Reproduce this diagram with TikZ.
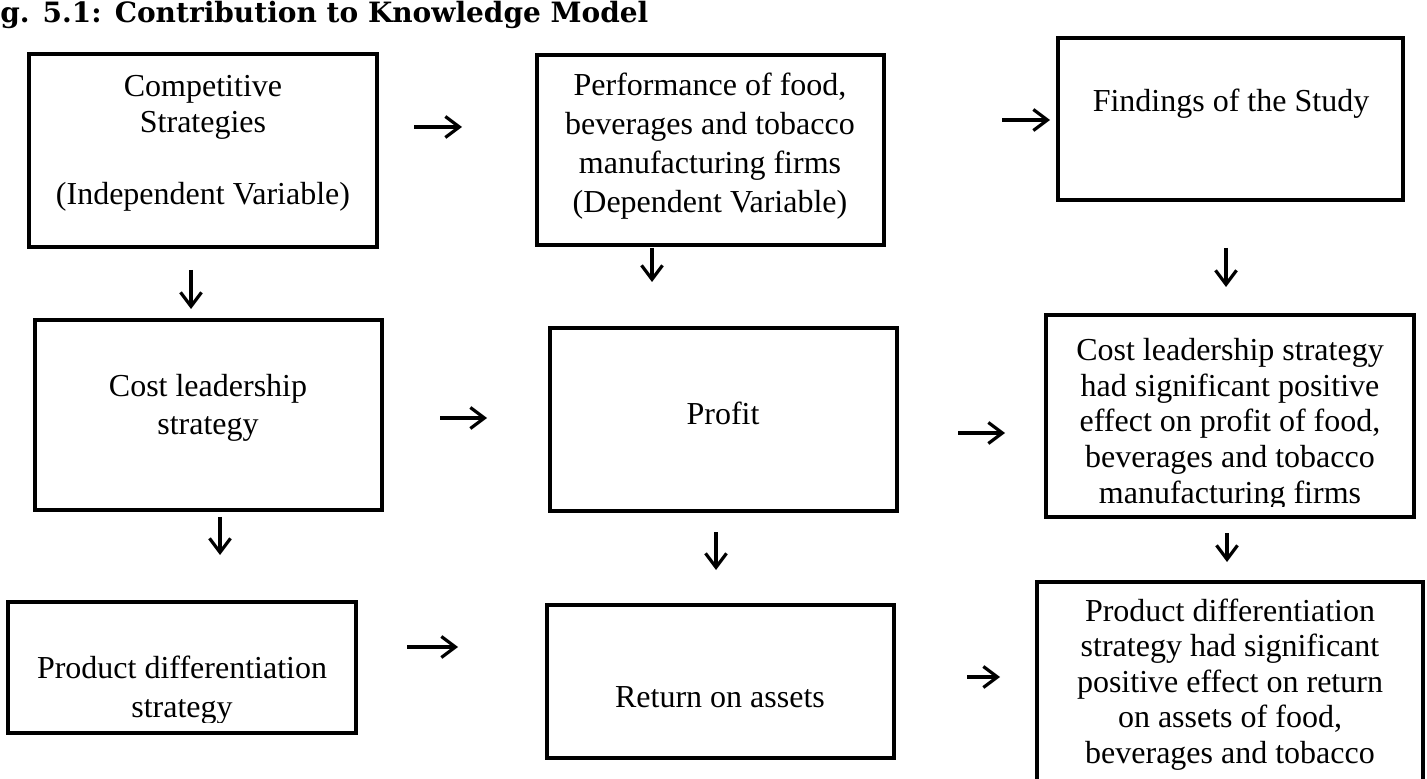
\documentclass[tikz,border=0pt]{standalone}
\usepackage{fontspec}
\setmainfont{Liberation Serif}
\newfontfamily\headfont{DejaVu Serif}
\usetikzlibrary{arrows.meta}

\begin{document}
\begin{tikzpicture}[x=0.5pt,y=-0.5pt]
    \tikzstyle{box}=[draw,rectangle,line width=2pt,inner sep=0pt]
    \tikzstyle{txt}=[align=center,inner sep=0pt,anchor=base,font=\fontsize{16}{18}\selectfont]
    \tikzstyle{link}=[-{Straight Barb[length=7pt,width=10.5pt]},line width=1.6pt]

    \useasboundingbox (0,0) rectangle (1427,779);

    \node[anchor=base west,inner sep=0pt,font=\headfont\bfseries\fontsize{14}{16}\selectfont]
        (title) at (0,23) {g. 5.1: Contribution to Knowledge Model};

    % Top row: variables and findings
    \node[box, minimum width=174pt, minimum height=96.5pt] (cs) at (203,150.5) {};
    \node[box, minimum width=173.5pt, minimum height=95pt] (perf) at (710.5,150) {};
    \node[box, minimum width=172.5pt, minimum height=81pt] (find) at (1230.5,119) {};

    % (text nodes sit on the baseline of their last line)
    \node[txt] (cs-t) at (203,205) {Competitive\\Strategies\\[18pt](Independent Variable)};
    \node[txt, font=\fontsize{16}{19.5}\selectfont] (perf-t) at (710,213)
        {Performance of food,\\beverages and tobacco\\manufacturing firms\\(Dependent Variable)};
    \node[txt] (find-t) at (1231,112) {Findings of the Study};

    % Middle row: cost leadership
    \node[box, minimum width=173.5pt, minimum height=95pt] (cl) at (208.5,415) {};
    \node[box, minimum width=173.5pt, minimum height=91.5pt] (profit) at (723.5,419.5) {};
    \node[box, minimum width=184pt, minimum height=101pt] (clf) at (1230,416) {};

    \node[txt, font=\fontsize{16}{19}\selectfont] (cl-t) at (208,435) {Cost leadership\\strategy};
    \node[txt] (profit-t) at (723,425) {Profit};
    \begin{scope}
        \clip (clf.north west) rectangle ([yshift=6pt]clf.south east);
        \node[txt, font=\fontsize{16}{17.8}\selectfont] (clf-t) at (1230,503)
            {Cost leadership strategy\\had significant positive\\effect on profit of food,\\beverages and tobacco\\manufacturing firms};
    \end{scope}

    % Bottom row: product differentiation
    \node[box, minimum width=174pt, minimum height=65.5pt] (pd) at (182,667.5) {};
    \node[box, minimum width=173.5pt, minimum height=76.5pt] (roa) at (720.5,681.5) {};
    \node[box, minimum width=193pt, minimum height=149pt] (pdf) at (1230,731) {};

    \begin{scope}
        \clip (pd.north west) rectangle ([yshift=6.5pt]pd.south east);
        \node[txt, font=\fontsize{16}{19.5}\selectfont] (pd-t) at (182,717) {Product differentiation\\strategy};
    \end{scope}
    \node[txt] (roa-t) at (720,707) {Return on assets};
    \node[txt, font=\fontsize{16}{17.7}\selectfont] (pdf-t) at (1230,763)
        {Product differentiation\\strategy had significant\\positive effect on return\\on assets of food,\\beverages and tobacco};

    % Arrows between the boxes
    \foreach \name/\xa/\ya/\xb/\yb in {r1/414/127/462/127, r2/1002/120/1050/120,
            r3/440/418/487/418, r4/958/433/1005/433, r5/407/647/458/647, r6/967/677/1000/677,
            d1/191/270/191/309, d2/652/248/652/282, d3/1226/248/1226/287,
            d4/220/517/220/555, d5/716/532/716/570, d6/1227/533/1227/562}
    {
        \coordinate (\name-s) at (\xa,\ya);
        \coordinate (\name-e) at (\xb,\yb);
        \draw[link] (\name-s) -- (\name-e);
    }

\end{tikzpicture}
\end{document}
